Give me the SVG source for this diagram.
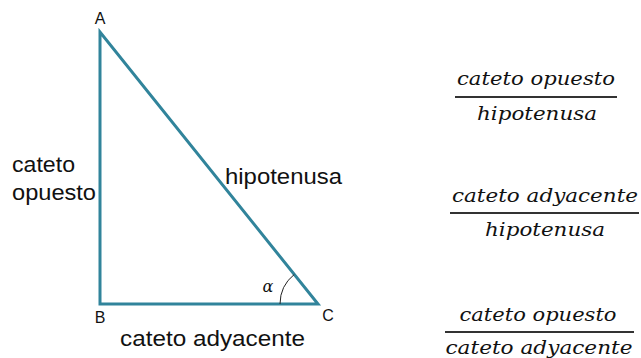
<svg xmlns="http://www.w3.org/2000/svg" width="641" height="358" viewBox="0 0 641 358">
<style>
.tri{fill:none;stroke:#31849B;stroke-width:3;stroke-linejoin:miter}
.lbl{font-family:"Liberation Sans",Arial,sans-serif;font-size:22px;fill:#111}
.pt{font-family:"Liberation Sans",Arial,sans-serif;font-size:16px;fill:#111}
.m{font-family:"DejaVu Serif","Liberation Serif",serif;font-style:italic;font-size:19px;fill:#111;text-anchor:middle}
.bar{stroke:#333;stroke-width:2}
</style>
<rect width="641" height="358" fill="#fff"/>
<g id="triangle">
<polygon class="tri" points="100,32 100,304 318,304"/>
<path d="M280,304 A38,38 0 0 1 294.3,274.4" fill="none" stroke="#222" stroke-width="1"/>
<text x="268" y="292" font-family="DejaVu Serif,serif" font-style="italic" font-size="16" fill="#111" text-anchor="middle">α</text>
</g>
<g id="vertex-labels">
<text class="pt" x="100" y="24" text-anchor="middle">A</text>
<text class="pt" x="100" y="323" text-anchor="middle">B</text>
<text class="pt" x="328" y="321" text-anchor="middle">C</text>
</g>
<g id="side-labels">
<text class="lbl" x="12" y="172" textLength="63" lengthAdjust="spacingAndGlyphs">cateto</text>
<text class="lbl" x="12" y="200" textLength="84" lengthAdjust="spacingAndGlyphs">opuesto</text>
<text class="lbl" x="225" y="184" textLength="117" lengthAdjust="spacingAndGlyphs">hipotenusa</text>
<text class="lbl" x="120" y="346" textLength="185" lengthAdjust="spacingAndGlyphs">cateto adyacente</text>
</g>
<g id="fraction1">
<text class="m" x="536" y="85" textLength="158" lengthAdjust="spacingAndGlyphs">cateto opuesto</text>
<line class="bar" x1="455" y1="97" x2="617" y2="97"/>
<text class="m" x="537" y="120" textLength="120" lengthAdjust="spacingAndGlyphs">hipotenusa</text>
</g>
<g id="fraction2">
<text class="m" x="545" y="202" textLength="186" lengthAdjust="spacingAndGlyphs">cateto adyacente</text>
<line class="bar" x1="450" y1="213" x2="639" y2="213"/>
<text class="m" x="545" y="236" textLength="120" lengthAdjust="spacingAndGlyphs">hipotenusa</text>
</g>
<g id="fraction3">
<text class="m" x="538" y="321" textLength="157" lengthAdjust="spacingAndGlyphs">cateto opuesto</text>
<line class="bar" x1="445" y1="332" x2="634" y2="332"/>
<text class="m" x="539" y="354" textLength="187" lengthAdjust="spacingAndGlyphs">cateto adyacente</text>
</g>
</svg>
